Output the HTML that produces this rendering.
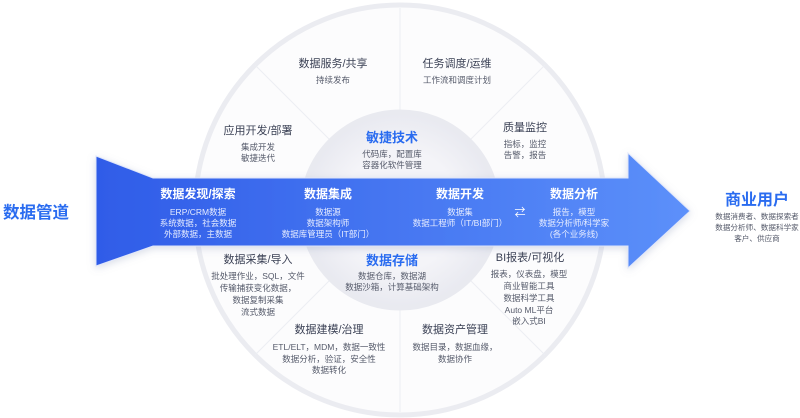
<!DOCTYPE html>
<html><head><meta charset="utf-8"><style>
html,body{margin:0;padding:0;background:#fff;}
body{width:800px;height:418px;overflow:hidden;position:relative;font-family:"Liberation Sans","Noto Sans CJK SC",sans-serif;}
svg{position:absolute;left:0;top:0;}
</style></head><body>
<svg width="800" height="418" viewBox="0 0 800 418" xmlns="http://www.w3.org/2000/svg" font-family="Liberation Sans, Noto Sans CJK SC, sans-serif">
<defs>
<linearGradient id="ag" x1="0" y1="0" x2="1" y2="0">
<stop offset="0" stop-color="#2f5ce8"/><stop offset="1" stop-color="#5c90fa"/>
</linearGradient>
<radialGradient id="ig" cx="0.5" cy="0.5" r="0.5">
<stop offset="0.6" stop-color="#f4f4f8"/><stop offset="1" stop-color="#e8e9f0"/>
</radialGradient>
<filter id="sh" x="-10%" y="-30%" width="120%" height="160%"><feDropShadow dx="0" dy="2" stdDeviation="4" flood-color="#8090b0" flood-opacity="0.3"/></filter>
</defs>
<circle cx="400" cy="210" r="205" fill="#fcfcfd" stroke="#ebecf1" stroke-width="5"/>
<g stroke="#eceef3" stroke-width="1">
<line x1="400" y1="8" x2="400" y2="113"/>
<line x1="400" y1="307" x2="400" y2="412"/>
<line x1="255" y1="65" x2="330" y2="140"/>
<line x1="545" y1="65" x2="470" y2="140"/>
<line x1="255" y1="355" x2="330" y2="280"/>
<line x1="545" y1="355" x2="470" y2="280"/>
</g>
<circle cx="400" cy="210" r="98" fill="url(#ig)" stroke="#e9eaf0" stroke-width="5"/>
<polygon filter="url(#sh)" points="96,156 153,178 628,178 628,153 690,211 628,268 628,246 153,246 96,266" fill="url(#ag)" stroke="#dfe6fb" stroke-width="1"/>
<g text-anchor="middle">
<text x="36" y="218" font-size="16.5" fill="#2a6cf0" font-weight="bold">数据管道</text>
<text x="757" y="205" font-size="16" fill="#2a6cf0" font-weight="bold">商业用户</text>
<g font-size="7.6" fill="#555a6a">
<text x="757" y="219">数据消费者、数据探索者</text>
<text x="757" y="230">数据分析师、数据科学家</text>
<text x="757" y="241">客户、供应商</text>
</g>
<g fill="#fff">
<text x="198" y="198" font-size="12" font-weight="bold">数据发现/探索</text>
<g font-size="8.5" fill="#e6ecff"><text x="198" y="215">ERP/CRM数据</text><text x="198" y="226">系统数据，社会数据</text><text x="198" y="237">外部数据，主数据</text></g>
<text x="328" y="198" font-size="12" font-weight="bold">数据集成</text>
<g font-size="8.5" fill="#e6ecff"><text x="328" y="215">数据源</text><text x="328" y="226">数据架构师</text><text x="328" y="237">数据库管理员（IT部门）</text></g>
<text x="460" y="198" font-size="12" font-weight="bold">数据开发</text>
<g font-size="8.5" fill="#e6ecff"><text x="460" y="215">数据集</text><text x="460" y="226">数据工程师（IT/BI部门）</text></g>
<text x="520" y="216" font-size="11">⇄</text>
<text x="574" y="198" font-size="12" font-weight="bold">数据分析</text>
<g font-size="8.5" fill="#e6ecff"><text x="574" y="215">报告，模型</text><text x="574" y="226">数据分析师/科学家</text><text x="574" y="237">(各个业务线)</text></g>
</g>
<text x="392" y="142" font-size="13" fill="#2a6cf0" font-weight="bold">敏捷技术</text>
<g font-size="8.5" fill="#555a6a"><text x="392" y="157">代码库，配置库</text><text x="392" y="168">容器化软件管理</text></g>
<text x="392" y="265" font-size="13" fill="#2a6cf0" font-weight="bold">数据存储</text>
<g font-size="8.5" fill="#555a6a"><text x="392" y="279">数据仓库，数据湖</text><text x="392" y="290">数据沙箱，计算基础架构</text></g>
<g font-size="11" fill="#3c4256">
<text x="333" y="67">数据服务/共享</text>
<text x="457" y="67">任务调度/运维</text>
<text x="258" y="134">应用开发/部署</text>
<text x="525" y="131">质量监控</text>
<text x="258" y="263">数据采集/导入</text>
<text x="530" y="261">BI报表/可视化</text>
<text x="329" y="333">数据建模/治理</text>
<text x="455" y="333">数据资产管理</text>
</g>
<g font-size="8.5" fill="#555a6a">
<text x="333" y="83">持续发布</text>
<text x="457" y="83">工作流和调度计划</text>
<text x="258" y="150">集成开发</text><text x="258" y="161">敏捷迭代</text>
<text x="525" y="147">指标，监控</text><text x="525" y="158">告警，报告</text>
<text x="258" y="279">批处理作业，SQL，文件</text><text x="258" y="291">传输捕获变化数据，</text><text x="258" y="303">数据复制采集</text><text x="258" y="315">流式数据</text>
<text x="529" y="277">报表，仪表盘，模型</text><text x="529" y="289">商业智能工具</text><text x="529" y="301">数据科学工具</text><text x="529" y="313">Auto ML平台</text><text x="529" y="324">嵌入式BI</text>
<text x="329" y="350">ETL/ELT，MDM，数据一致性</text><text x="329" y="362">数据分析，验证，安全性</text><text x="329" y="373">数据转化</text>
<text x="455" y="350">数据目录，数据血缘，</text><text x="455" y="362">数据协作</text>
</g>
</g>
</svg>
</body></html>
